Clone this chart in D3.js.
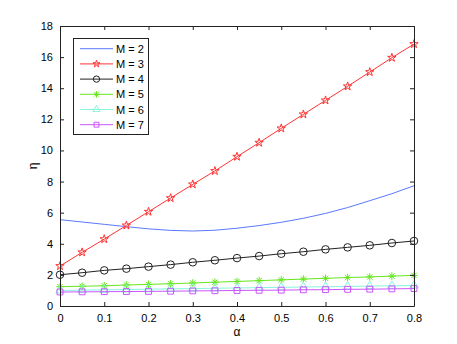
<!DOCTYPE html>
<html>
<head>
<meta charset="utf-8">
<script src="https://cdn.jsdelivr.net/npm/d3@7"></script>
<style>
  body { margin: 0; background: #fff; }
  svg { display: block; font-family: "Liberation Sans", Arial, sans-serif; }
</style>
</head>
<body>
<svg id="chart" width="457" height="344"></svg>
<script>
var alpha = [0, 0.05, 0.1, 0.15, 0.2, 0.25, 0.3, 0.35, 0.4, 0.45, 0.5, 0.55, 0.6, 0.65, 0.7, 0.75, 0.8];

var m2 = [5.55, 5.40, 5.25, 5.10, 4.96, 4.86, 4.82, 4.87, 5.00, 5.17, 5.38, 5.64, 5.95, 6.33, 6.77, 7.22, 7.73];
var m3 = [2.57, 3.45, 4.30, 5.18, 6.06, 6.94, 7.82, 8.68, 9.60, 10.50, 11.42, 12.32, 13.22, 14.12, 15.04, 15.96, 16.84];
var m4 = [2.01, 2.14, 2.29, 2.40, 2.53, 2.66, 2.81, 2.94, 3.08, 3.21, 3.36, 3.49, 3.64, 3.77, 3.90, 4.05, 4.18];
var m5 = [1.24, 1.27, 1.30, 1.35, 1.39, 1.43, 1.48, 1.53, 1.58, 1.63, 1.68, 1.73, 1.78, 1.83, 1.87, 1.92, 1.97];
var m6 = [1.00, 1.02, 1.04, 1.06, 1.08, 1.10, 1.12, 1.14, 1.16, 1.18, 1.20, 1.22, 1.24, 1.26, 1.28, 1.30, 1.32];
var m7 = [0.90, 0.91, 0.92, 0.93, 0.94, 0.95, 0.97, 0.98, 1.00, 1.01, 1.02, 1.04, 1.05, 1.07, 1.08, 1.10, 1.12];

var xTicks = [0, 0.1, 0.2, 0.3, 0.4, 0.5, 0.6, 0.7, 0.8];
var yTicks = [0, 2, 4, 6, 8, 10, 12, 14, 16, 18];

var series = [
  { name: "M = 2", values: m2, color: "#5b78ff", marker: null },
  { name: "M = 3", values: m3, color: "#ff3333", marker: "star" },
  { name: "M = 4", values: m4, color: "#222222", marker: "circle" },
  { name: "M = 5", values: m5, color: "#66e61f", marker: "asterisk" },
  { name: "M = 6", values: m6, color: "#88f5dd", marker: "triangle" },
  { name: "M = 7", values: m7, color: "#cc55ff", marker: "square" }
];

var [plotLeft, plotRight, plotTop, plotBottom] = [60, 414, 26, 306];

var xScale = d3.scaleLinear().domain([0, 0.8]).range([plotLeft, plotRight]);
var yScale = d3.scaleLinear().domain([0, 18]).range([plotBottom, plotTop]);

var svg = d3.select("#chart");

/** markers as path strings */
function markerPath(type, k) {
  k = k || 1;
  if (type === "star") return d3.symbol(d3.symbolStar, 22 * k)();
  if (type === "circle") return d3.symbol(d3.symbolCircle, 45 * k)();
  if (type === "triangle") return d3.symbol(d3.symbolTriangle, 32 * k)();
  if (type === "square") return d3.symbol(d3.symbolSquare, 34 * k)();
  if (type === "asterisk") {
    var r = 3.8 * Math.sqrt(k), d = r * 0.707;
    return "M" + (-r) + ",0L" + r + ",0M0," + (-r) + "L0," + r +
      "M" + (-d) + "," + (-d) + "L" + d + "," + d + "M" + (-d) + "," + d + "L" + d + "," + (-d);
  }
  return null;
}

/** Lines */
var line = d3.line()
  .x(function (d, i) { return xScale(alpha[i]); })
  .y(function (d) { return yScale(d); });

var plot = svg.append("g");
series.forEach(function (s) {
  plot.append("path")
    .attr("d", line(s.values))
    .attr("fill", "none")
    .attr("stroke", s.color)
    .attr("stroke-width", 1);
  if (s.marker) {
    plot.selectAll(null)
      .data(s.values)
      .enter()
      .append("path")
      .attr("transform", function (d, i) { return "translate(" + xScale(alpha[i]) + "," + yScale(d) + ")"; })
      .attr("d", markerPath(s.marker))
      .attr("fill", "none")
      .attr("stroke", s.color)
      .attr("stroke-width", 1);
  }
});

/** Axes (MATLAB box, inward ticks) */
function styleAxis(g) {
  g.select(".domain").attr("stroke", "#222");
  g.selectAll(".tick line").attr("stroke", "#222");
  g.selectAll("text").attr("fill", "#000").style("font-size", "11px");
}

svg.append("g")
  .attr("transform", "translate(0," + plotBottom + ")")
  .call(d3.axisBottom(xScale).tickValues(xTicks).tickSizeInner(-4).tickSizeOuter(0).tickPadding(8)
        .tickFormat(function (d) { return d === 0 ? "0" : d3.format(".1f")(d); }))
  .call(styleAxis);
svg.append("g")
  .attr("transform", "translate(0," + plotTop + ")")
  .call(d3.axisTop(xScale).tickValues(xTicks).tickSizeInner(-4).tickSizeOuter(0).tickFormat(""))
  .call(styleAxis);
svg.append("g")
  .attr("transform", "translate(" + plotLeft + ",0)")
  .call(d3.axisLeft(yScale).tickValues(yTicks).tickSizeInner(-4).tickSizeOuter(0).tickPadding(7))
  .call(styleAxis);
svg.append("g")
  .attr("transform", "translate(" + plotRight + ",0)")
  .call(d3.axisRight(yScale).tickValues(yTicks).tickSizeInner(-4).tickSizeOuter(0).tickFormat(""))
  .call(styleAxis);

/** Axis labels */
svg.append("text")
  .attr("x", (plotLeft + plotRight) / 2)
  .attr("y", 336)
  .attr("text-anchor", "middle")
  .style("font-size", "12px")
  .text("α");
svg.append("text")
  .attr("transform", "translate(37," + ((plotTop + plotBottom) / 2) + ") rotate(-90)")
  .attr("text-anchor", "middle")
  .style("font-size", "12px")
  .text("η");

/** Legend */
var legend = svg.append("g");
legend.append("rect")
  .attr("x", 73.5).attr("y", 38.5)
  .attr("width", 75).attr("height", 96)
  .attr("fill", "#fff").attr("stroke", "#222").attr("stroke-width", 1);

series.forEach(function (s, i) {
  var ly = 48.7 + i * 15.2;
  legend.append("line")
    .attr("x1", 80).attr("x2", 113)
    .attr("y1", ly).attr("y2", ly)
    .attr("stroke", s.color).attr("stroke-width", 1);
  if (s.marker) {
    legend.append("path")
      .attr("transform", "translate(96.5," + ly + ")")
      .attr("d", markerPath(s.marker, 0.7))
      .attr("fill", "none")
      .attr("stroke", s.color);
  }
  legend.append("text")
    .attr("x", 116).attr("y", ly + 4)
    .style("font-size", "11px")
    .text(s.name);
});
</script>
</body>
</html>
